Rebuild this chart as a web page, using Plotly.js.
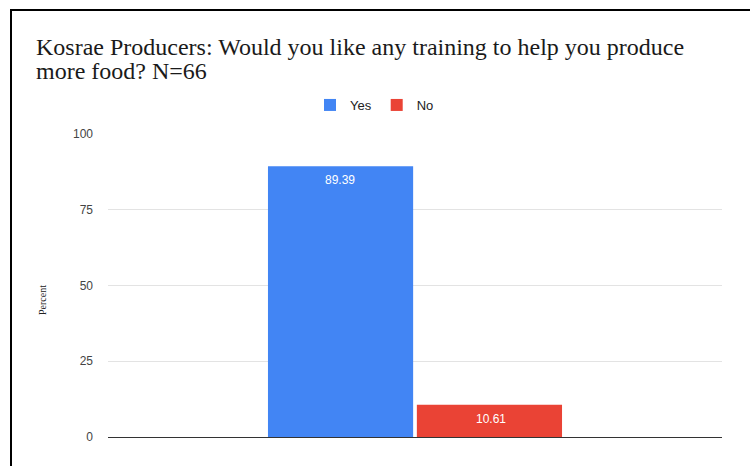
<!DOCTYPE html>
<html>
<head>
<meta charset="utf-8">
<script src="https://cdn.plot.ly/plotly-3.0.1.min.js"></script>
<style>
html,body{margin:0;padding:0;background:#fff;}
#wrap{position:relative;width:750px;height:466px;overflow:hidden;}
#chart{position:absolute;left:0;top:0;width:750px;height:466px;}
#frame{position:absolute;left:10px;top:9px;width:760px;height:500px;border:2px solid #000;pointer-events:none;}
</style>
</head>
<body>
<div id="wrap"><div id="chart"></div><div id="frame"></div></div>
<script>
const category = ["Training"];
const seriesNames = ["Yes", "No"];
const yesValues = [89.39];
const noValues = [10.61];
const yesLabels = ["89.39"];
const noLabels = ["10.61"];
const yTicks = [0, 25, 50, 75, 100];
const titleLines = ["Kosrae Producers: Would you like any training to help you produce", "more food? N=66"];

const common = {
  type: "bar",
  hoverinfo: "none"
};
const traces = [
  Object.assign({}, common, {x: category, y: yesValues, name: seriesNames[0], marker: {color: "#4285f4"}}),
  Object.assign({}, common, {x: category, y: noValues, name: seriesNames[1], marker: {color: "#ea4335"}})
];

const titleFont = {family: "Liberation Serif, Times New Roman, serif", size: 24, color: "#1a1a1a"};
const labelFont = {family: "Arial, Liberation Sans, sans-serif", size: 12, color: "#ffffff"};
const px2y = p => (437 - p) / 303;
const px2x = p => (p - 108) / 614;

const barLabel = (cat, val, txt, shift) => ({
  text: txt, showarrow: false, xref: "x", yref: "y",
  x: cat, y: val, xanchor: "center", yanchor: "middle",
  xshift: shift, yshift: -14, font: labelFont
});

const layout = {
  width: 750, height: 466,
  margin: {l: 108, r: 28, t: 134, b: 29},
  paper_bgcolor: "#ffffff", plot_bgcolor: "#ffffff",
  barmode: "group",
  bargap: 0.515,
  bargroupgap: 0.025,
  showlegend: true,
  legend: {
    orientation: "h", x: px2x(310), xanchor: "left", xref: "paper",
    y: px2y(105), yanchor: "middle",
    font: {family: "Arial, Liberation Sans, sans-serif", size: 13, color: "#222222"},
    itemwidth: 30
  },
  xaxis: {
    showticklabels: false, showgrid: false, zeroline: false, showline: false, fixedrange: true
  },
  yaxis: {
    range: [0, 100],
    tickvals: yTicks,
    ticktext: yTicks.map(String),
    tickfont: {family: "Arial, Liberation Sans, sans-serif", size: 12, color: "#444444"},
    ticklabelstandoff: 14,
    showgrid: true, gridcolor: "#e3e3e3", gridwidth: 1,
    zeroline: true, zerolinecolor: "#333333", zerolinewidth: 1,
    showline: false, ticks: ""
  },
  annotations: [
    {
      text: titleLines[0], showarrow: false,
      xref: "paper", yref: "paper", x: px2x(34), y: px2y(47),
      xanchor: "left", yanchor: "middle", font: titleFont
    },
    {
      text: titleLines[1], showarrow: false,
      xref: "paper", yref: "paper", x: px2x(34), y: px2y(71),
      xanchor: "left", yanchor: "middle", font: titleFont
    },
    {
      text: "Percent", textangle: -90, showarrow: false,
      xref: "paper", yref: "paper", x: px2x(42), y: px2y(300),
      xanchor: "center", yanchor: "middle",
      font: {family: "Liberation Serif, Times New Roman, serif", size: 10, color: "#222222"}
    },
    barLabel(category[0], yesValues[0], yesLabels[0], -75),
    barLabel(category[0], noValues[0], noLabels[0], 76)
  ]
};

Plotly.newPlot("chart", traces, layout, {displayModeBar: false, staticPlot: true});
</script>
</body>
</html>
